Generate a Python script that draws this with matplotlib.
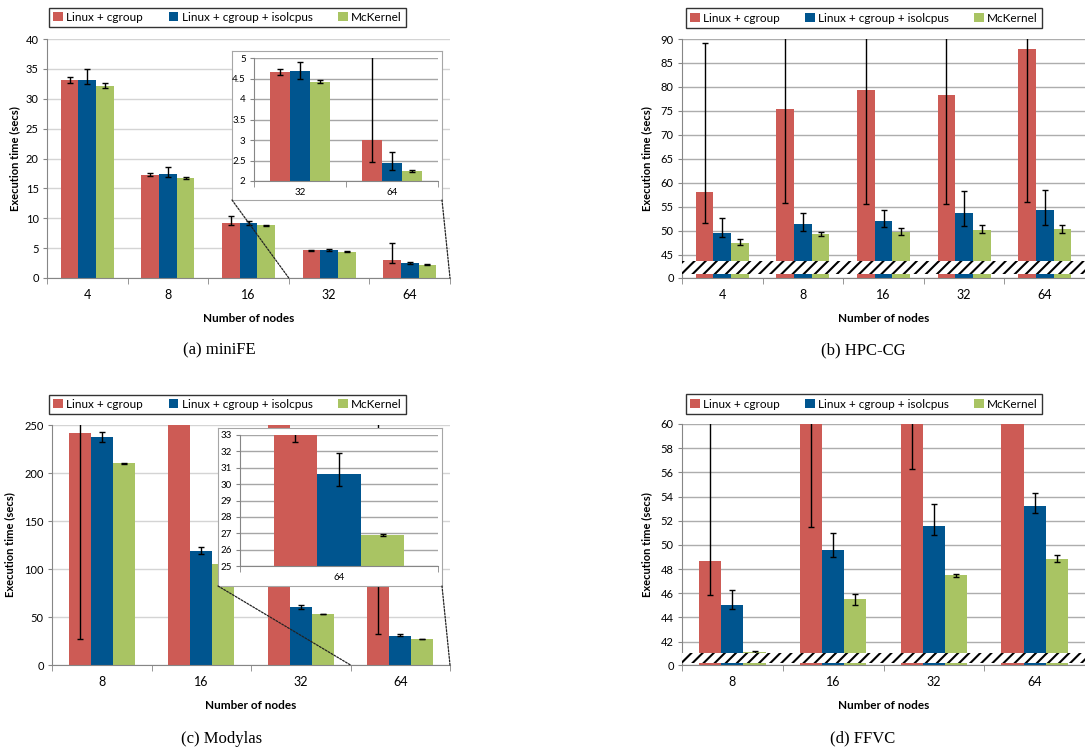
import numpy as np
import matplotlib
matplotlib.use("Agg")
import matplotlib.pyplot as plt
import matplotlib.transforms as mtrans
from matplotlib.patches import Rectangle, ConnectionPatch, Patch

plt.rcParams['font.family'] = ['Lato', 'DejaVu Sans']
plt.rcParams['hatch.linewidth'] = 1.5

W, H = 1085, 749

SERIES = ['Linux + cgroup', 'Linux + cgroup + isolcpus', 'McKernel']
COLORS = ['#CD5B55', '#00558F', '#A9C463']

# (a) miniFE
minife_nodes = ['4', '8', '16', '32', '64']
minife_cg = [33.1, 17.3, 9.2, 4.65, 3.0]
minife_cg_lo = [32.7, 17.0, 8.9, 4.59, 2.47]
minife_cg_hi = [33.6, 17.6, 10.4, 4.72, 5.85]
minife_iso = [33.1, 17.4, 9.2, 4.68, 2.43]
minife_iso_lo = [32.4, 16.9, 8.9, 4.48, 2.28]
minife_iso_hi = [34.9, 18.5, 9.5, 4.90, 2.70]
minife_mck = [32.2, 16.7, 8.8, 4.42, 2.24]
minife_mck_lo = [31.8, 16.55, 8.75, 4.38, 2.21]
minife_mck_hi = [32.6, 16.85, 8.85, 4.46, 2.27]

# (b) HPC-CG
hpccg_nodes = ['4', '8', '16', '32', '64']
hpccg_cg = [58.1, 75.3, 79.4, 78.4, 88.0]
hpccg_cg_lo = [51.7, 55.8, 55.6, 55.5, 55.9]
hpccg_cg_hi = [89.2, 98.0, 100.0, 99.0, 105.0]
hpccg_iso = [49.6, 51.5, 52.1, 53.8, 54.3]
hpccg_iso_lo = [48.6, 49.9, 50.7, 50.9, 51.1]
hpccg_iso_hi = [52.7, 53.6, 54.3, 58.2, 58.6]
hpccg_mck = [47.5, 49.3, 49.7, 50.2, 50.4]
hpccg_mck_lo = [47.0, 48.8, 49.2, 49.5, 49.5]
hpccg_mck_hi = [48.2, 49.8, 50.5, 51.1, 51.3]

# (c) Modylas
modylas_nodes = ['8', '16', '32', '64']
modylas_cg = [242.0, 320.0, 300.0, 150.0]
modylas_cg_lo = [27.0, 280.0, 280.0, 32.6]
modylas_cg_hi = [300.0, 360.0, 320.0, 300.0]
modylas_iso = [237.0, 119.0, 60.0, 30.6]
modylas_iso_lo = [232.0, 116.0, 58.5, 29.9]
modylas_iso_hi = [243.0, 122.5, 62.0, 31.9]
modylas_mck = [210.0, 105.0, 53.0, 26.9]
modylas_mck_lo = [209.6, 104.6, 52.8, 26.85]
modylas_mck_hi = [210.4, 105.4, 53.2, 26.95]

# (d) FFVC
ffvc_nodes = ['8', '16', '32', '64']
ffvc_cg = [48.65, 68.0, 66.0, 72.0]
ffvc_cg_lo = [45.85, 51.5, 56.3, 63.0]
ffvc_cg_hi = [75.0, 85.0, 76.0, 81.0]
ffvc_iso = [45.05, 49.55, 51.55, 53.2]
ffvc_iso_lo = [44.7, 49.0, 50.85, 52.65]
ffvc_iso_hi = [46.25, 51.0, 53.35, 54.3]
ffvc_mck = [41.15, 45.5, 47.5, 48.85]
ffvc_mck_lo = [41.1, 45.05, 47.38, 48.6]
ffvc_mck_hi = [41.2, 45.95, 47.6, 49.2]


def px_rect(x0, y0, x1, y1):
    return [x0 / W, 1 - y1 / H, (x1 - x0) / W, (y1 - y0) / H]


def draw_bars(ax, means, los, his, base, idx=None):
    w = 0.22
    for i, (m, lo, hi) in enumerate(zip(means, los, his)):
        m, lo, hi = np.array(m), np.array(lo), np.array(hi)
        if idx is not None:
            m, lo, hi = m[idx], lo[idx], hi[idx]
        xs = np.arange(len(m)) + (i - 1) * w
        ax.bar(xs, m - base, w, bottom=base, color=COLORS[i], zorder=2)
        ax.errorbar(xs, m, yerr=[m - lo, hi - m], fmt='none', ecolor='black',
                    elinewidth=1, capsize=2, capthick=1, zorder=3)


def style_axes(ax, labels, ylim, yticks, yticklabels=None, grid='#D4D4D4',
               xfs=9, yfs=8, pad=8):
    n = len(labels)
    ax.set_xlim(-0.5, n - 0.5)
    ax.set_ylim(*ylim)
    ax.set_xticks(range(n))
    ax.set_xticklabels(labels)
    ax.set_xticks(np.arange(n + 1) - 0.5, minor=True)
    ax.tick_params(axis='x', which='major', length=0, pad=pad, labelsize=xfs)
    ax.tick_params(axis='x', which='minor', length=4, color='#868686')
    ax.set_yticks(yticks)
    if yticklabels is not None:
        ax.set_yticklabels(yticklabels)
    ax.tick_params(axis='y', length=3, color='#868686', labelsize=yfs, pad=3)
    ax.yaxis.grid(True, color=grid, linewidth=1)
    ax.set_axisbelow(True)
    for s in ['top', 'right']:
        ax.spines[s].set_visible(False)
    for s in ['left', 'bottom']:
        ax.spines[s].set_color('#868686')


def add_legend(fig, x0, y0, x1, y1):
    handles = [Patch(facecolor=c, edgecolor='none') for c in COLORS]
    x, y, w, h = px_rect(x0, y0, x1, y1)
    leg = fig.legend(handles, SERIES, loc='center', bbox_to_anchor=(x, y, w, h),
                     mode='expand', ncol=3, fontsize=8.5, fancybox=False,
                     edgecolor='black', handlelength=0.8, handleheight=0.8,
                     handletextpad=0.3, borderpad=0.35, borderaxespad=0)
    leg.get_frame().set_linewidth(1.0)


def add_break(ax, y0, y1):
    tr = mtrans.blended_transform_factory(ax.transAxes, ax.transData)
    ax.add_patch(Rectangle((0, y0), 1, y1 - y0, transform=tr, facecolor='white',
                           edgecolor='black', hatch='///', linewidth=0,
                           clip_on=False, zorder=4))


def add_inset(fig, ax, frame_px, inset_px, xa, xb):
    fr = fig.add_axes(px_rect(*frame_px), zorder=2)
    fr.set_xticks([])
    fr.set_yticks([])
    for s in fr.spines.values():
        s.set_color('#A6A6A6')
    ins = fig.add_axes(px_rect(*inset_px), zorder=3)
    ins.patch.set_alpha(0)
    y0 = ax.get_ylim()[0]
    for fx, mx in [(0, xa), (1, xb)]:
        con = ConnectionPatch(xyA=(fx, 0), coordsA=fr.transAxes,
                              xyB=(mx, y0), coordsB=ax.transData,
                              color='#222222', linewidth=0.9,
                              linestyle=(0, (1.5, 1.2)), zorder=5)
        fig.add_artist(con)
    return ins


fig = plt.figure(figsize=(W / 100, H / 100), dpi=100)

# (a) miniFE
a = fig.add_axes(px_rect(47, 39, 450, 278), zorder=1)
draw_bars(a, [minife_cg, minife_iso, minife_mck],
          [minife_cg_lo, minife_iso_lo, minife_mck_lo],
          [minife_cg_hi, minife_iso_hi, minife_mck_hi], 0)
style_axes(a, minife_nodes, (0, 40), np.arange(0, 41, 5))
a.set_xlabel('Number of nodes', fontsize=8.5, fontweight='bold')
a.set_ylabel('Execution time (secs)', fontsize=8, fontweight='bold')
a.xaxis.set_label_coords(0.5, -0.146)
a.yaxis.set_label_coords(-0.067, 0.5)
ai = add_inset(fig, a, (232, 51, 442, 200), (254, 58, 438, 181), 2.5, 4.5)
draw_bars(ai, [minife_cg, minife_iso, minife_mck],
          [minife_cg_lo, minife_iso_lo, minife_mck_lo],
          [minife_cg_hi, minife_iso_hi, minife_mck_hi], 2, idx=[3, 4])
style_axes(ai, minife_nodes[3:], (2, 5), np.arange(2, 5.01, 0.5),
           ['2', '2.5', '3', '3.5', '4', '4.5', '5'], grid='#A6A6A6',
           xfs=7, yfs=7, pad=5)
add_legend(fig, 49, 7, 406, 28)

# (b) HPC-CG
b_base = 40.14
b = fig.add_axes(px_rect(682, 39, 1085, 278), zorder=1)
draw_bars(b, [hpccg_cg, hpccg_iso, hpccg_mck],
          [hpccg_cg_lo, hpccg_iso_lo, hpccg_mck_lo],
          [hpccg_cg_hi, hpccg_iso_hi, hpccg_mck_hi], b_base)
style_axes(b, hpccg_nodes, (b_base, 90), [b_base] + list(range(45, 91, 5)),
           ['0'] + [str(v) for v in range(45, 91, 5)], grid='#ADADAD')
add_break(b, 41.04, 43.75)
b.set_xlabel('Number of nodes', fontsize=8.5, fontweight='bold')
b.set_ylabel('Execution time (secs)', fontsize=8, fontweight='bold')
b.xaxis.set_label_coords(0.5, -0.146)
b.yaxis.set_label_coords(-0.074, 0.5)
add_legend(fig, 686, 8, 1042, 28)

# (c) Modylas
c = fig.add_axes(px_rect(52, 425, 450, 665), zorder=1)
draw_bars(c, [modylas_cg, modylas_iso, modylas_mck],
          [modylas_cg_lo, modylas_iso_lo, modylas_mck_lo],
          [modylas_cg_hi, modylas_iso_hi, modylas_mck_hi], 0)
style_axes(c, modylas_nodes, (0, 250), np.arange(0, 251, 50))
c.set_xlabel('Number of nodes', fontsize=8.5, fontweight='bold')
c.set_ylabel('Execution time (secs)', fontsize=8, fontweight='bold')
c.xaxis.set_label_coords(0.5, -0.146)
c.yaxis.set_label_coords(-0.093, 0.5)
ci = add_inset(fig, c, (218, 428, 442, 586), (240, 435, 438, 566), 2.5, 3.5)
draw_bars(ci, [modylas_cg, modylas_iso, modylas_mck],
          [modylas_cg_lo, modylas_iso_lo, modylas_mck_lo],
          [modylas_cg_hi, modylas_iso_hi, modylas_mck_hi], 25, idx=[3])
style_axes(ci, modylas_nodes[3:], (25, 33), np.arange(25, 34, 1), grid='#A6A6A6',
           xfs=7, yfs=7, pad=5)
add_legend(fig, 49, 394, 406, 415)

# (d) FFVC
d_base = 40.07
d = fig.add_axes(px_rect(682, 424, 1085, 665), zorder=1)
draw_bars(d, [ffvc_cg, ffvc_iso, ffvc_mck],
          [ffvc_cg_lo, ffvc_iso_lo, ffvc_mck_lo],
          [ffvc_cg_hi, ffvc_iso_hi, ffvc_mck_hi], d_base)
style_axes(d, ffvc_nodes, (d_base, 60), [d_base] + list(range(42, 61, 2)),
           ['0'] + [str(v) for v in range(42, 61, 2)], grid='#ADADAD')
add_break(d, 40.27, 41.05)
d.set_xlabel('Number of nodes', fontsize=8.5, fontweight='bold')
d.set_ylabel('Execution time (secs)', fontsize=8, fontweight='bold')
d.xaxis.set_label_coords(0.5, -0.146)
d.yaxis.set_label_coords(-0.074, 0.5)
add_legend(fig, 686, 394, 1042, 414)

# captions
for label, cx, cy in [('(a) miniFE', 219, 350), ('(b) HPC-CG', 863, 350),
                      ('(c) Modylas', 222, 739), ('(d) FFVC', 863, 738)]:
    fig.text(cx / W, 1 - cy / H, label, ha='center', va='center',
             family='Liberation Serif', fontsize=12)

fig.savefig('out.png', dpi=100)
